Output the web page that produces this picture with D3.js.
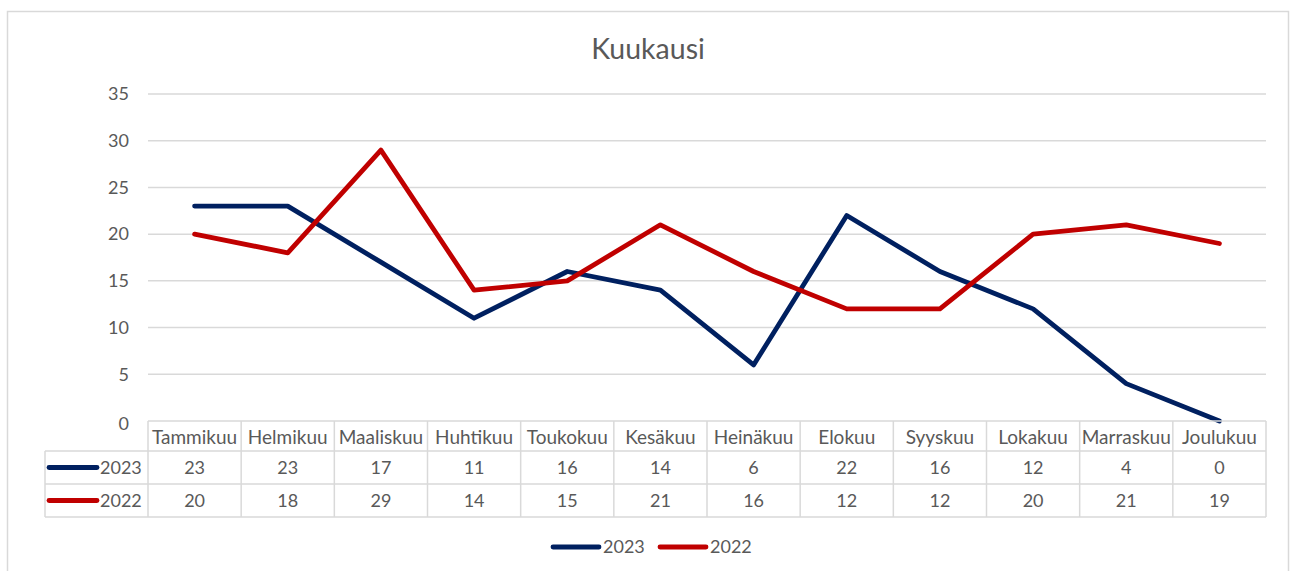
<!DOCTYPE html>
<html>
<head>
<meta charset="utf-8">
<script src="https://cdn.jsdelivr.net/npm/d3@7"></script>
<style>
  body { margin: 0; background: #fff; }
  text { font-family: Lato, "Open Sans", sans-serif; fill: #595959; }
</style>
</head>
<body>
<div id="chart"></div>
<script>
// months (table header / x categories)
const months = ["Tammikuu", "Helmikuu", "Maaliskuu", "Huhtikuu", "Toukokuu", "Kesäkuu",
                "Heinäkuu", "Elokuu", "Syyskuu", "Lokakuu", "Marraskuu", "Joulukuu"];
const values2023 = [23, 23, 17, 11, 16, 14, 6, 22, 16, 12, 4, 0];
const values2022 = [20, 18, 29, 14, 15, 21, 16, 12, 12, 20, 21, 19];
const yTicks = [0, 5, 10, 15, 20, 25, 30, 35];

const series = [
    { name: "2023", values: values2023, color: "#002060" },
    { name: "2022", values: values2022, color: "#C00000" }
];

var width = 1290, height = 571;
var grid = "#d9d9d9";

var svg = d3.select("#chart").append("svg")
    .attr("width", width)
    .attr("height", height);

// outer frame
svg.append("rect")
    .attr("x", 7.5).attr("y", 11.5)
    .attr("width", 1281).attr("height", 600)
    .attr("fill", "none")
    .attr("stroke", grid)
    .attr("stroke-width", 1.5);

svg.append("text")
    .attr("x", 648).attr("y", 59)
    .attr("text-anchor", "middle")
    .style("font-size", "28.5px")
    .text("Kuukausi");

var x = d3.scaleBand().domain(months).range([148, 1266]);
var y = d3.scaleLinear().domain([0, 35]).range([421, 94]);

// gridlines
svg.append("g").selectAll("line")
    .data(yTicks.filter(d => d > 0))
    .enter().append("line")
    .attr("x1", 148).attr("x2", 1266)
    .attr("y1", d => y(d)).attr("y2", d => y(d))
    .attr("stroke", grid).attr("stroke-width", 1.5);

svg.append("g").selectAll("text")
    .data(yTicks)
    .enter().append("text")
    .attr("x", 129)
    .attr("y", d => y(d))
    .attr("dy", d => d === 0 ? "0.5em" : "0.35em")
    .attr("text-anchor", "end")
    .style("font-size", "18px")
    .text(d => d);

// lines
var line = d3.line()
    .x((d, i) => x(months[i]) + x.bandwidth() / 2)
    .y(d => y(d));

svg.append("g").selectAll("path")
    .data(series)
    .enter().append("path")
    .attr("d", d => line(d.values))
    .attr("fill", "none")
    .attr("stroke", d => d.color)
    .attr("stroke-width", 4.8)
    .attr("stroke-linejoin", "round")
    .attr("stroke-linecap", "round");

// data table
var rowTop = [421, 451, 484, 517];
var tbl = svg.append("g");
var tableLeft = 45;

// horizontal lines
tbl.append("line").attr("x1", 148).attr("x2", 1266)
    .attr("y1", rowTop[0]).attr("y2", rowTop[0]);
[1, 2, 3].forEach(r => {
    tbl.append("line").attr("x1", tableLeft).attr("x2", 1266)
        .attr("y1", rowTop[r]).attr("y2", rowTop[r]);
});
// vertical lines
tbl.append("line").attr("x1", tableLeft).attr("x2", tableLeft)
    .attr("y1", rowTop[1]).attr("y2", rowTop[3]);
months.forEach(m => {
    tbl.append("line").attr("x1", x(m)).attr("x2", x(m))
        .attr("y1", rowTop[0]).attr("y2", rowTop[3]);
});
tbl.append("line").attr("x1", 1266).attr("x2", 1266)
    .attr("y1", rowTop[0]).attr("y2", rowTop[3]);
tbl.selectAll("line").attr("stroke", grid).attr("stroke-width", 1.5);

tbl.selectAll(".hdr")
    .data(months)
    .enter().append("text")
    .attr("class", "hdr")
    .attr("x", d => x(d) + x.bandwidth() / 2)
    .attr("y", (rowTop[0] + rowTop[1]) / 2 + 1)
    .attr("dy", "0.35em")
    .attr("text-anchor", "middle")
    .style("font-size", "19px")
    .text(d => d);

series.forEach((s, si) => {
    var cy = (rowTop[si + 1] + rowTop[si + 2]) / 2;
    tbl.append("line")
        .attr("x1", 49).attr("x2", 97)
        .attr("y1", cy).attr("y2", cy)
        .attr("stroke", s.color).attr("stroke-width", 4.8)
        .attr("stroke-linecap", "round");
    tbl.append("text")
        .attr("x", 100).attr("y", cy).attr("dy", "0.35em")
        .style("font-size", "18px")
        .text(s.name);
    tbl.selectAll(".v" + s.name)
        .data(s.values)
        .enter().append("text")
        .attr("x", (d, i) => x(months[i]) + x.bandwidth() / 2)
        .attr("y", cy).attr("dy", "0.35em")
        .attr("text-anchor", "middle")
        .style("font-size", "18px")
        .text(d => d);
});

// legend
var legend = svg.append("g").attr("transform", "translate(553,547)");
var lg = legend.selectAll("g")
    .data(series)
    .enter().append("g")
    .attr("transform", (d, i) => "translate(" + (i * 107) + ",0)");
lg.append("line")
    .attr("x1", 0).attr("x2", 46)
    .attr("stroke", d => d.color).attr("stroke-width", 4.8)
    .attr("stroke-linecap", "round");
lg.append("text")
    .attr("x", 50).attr("dy", "0.35em")
    .style("font-size", "18px")
    .text(d => d.name);
</script>
</body>
</html>
